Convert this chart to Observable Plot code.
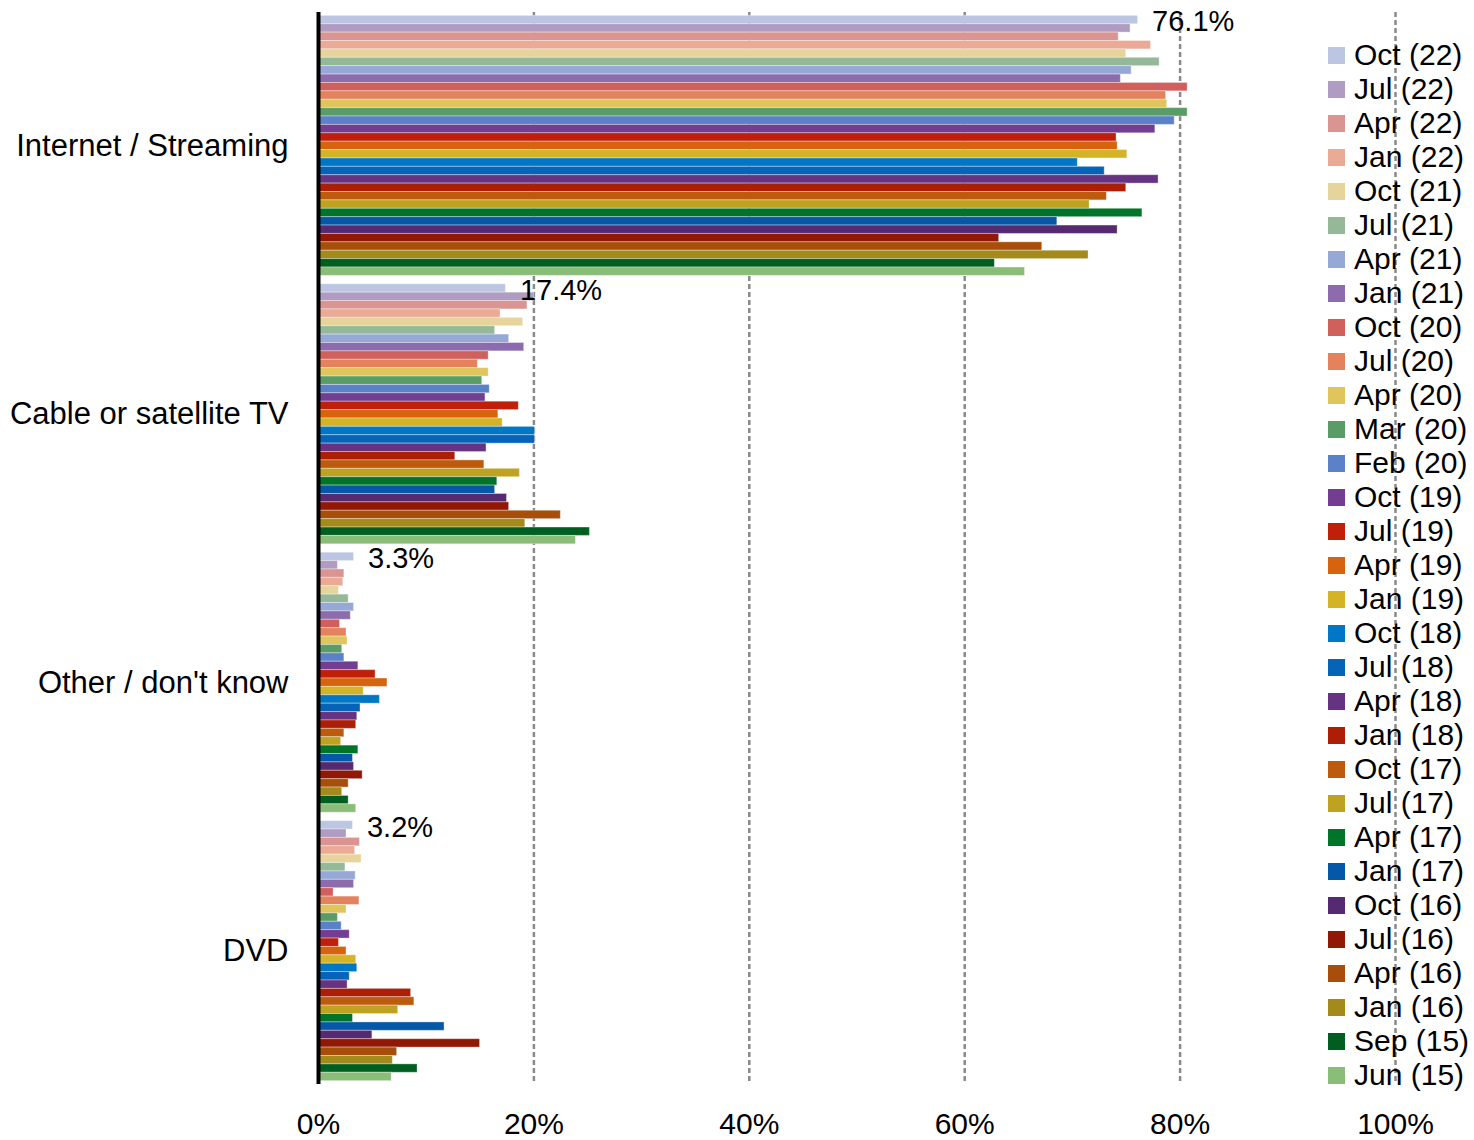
<!DOCTYPE html>
<html><head><meta charset="utf-8">
<script src="https://cdn.jsdelivr.net/npm/d3@7"></script>
<script src="https://cdn.jsdelivr.net/npm/@observablehq/plot@0.6"></script>
<style>
body{margin:0;background:#fff;}
#wrap{position:relative;width:1474px;height:1140px;font-family:"Liberation Sans",Arial,sans-serif;}
#chart{position:absolute;left:0;top:0;}
#legend{position:absolute;left:1328px;top:38px;}
.item{height:34.03px;display:flex;align-items:center;font-size:30px;color:#000;white-space:nowrap;line-height:1;}
.sw{width:17px;height:17px;margin-right:9px;flex:none;}
</style></head>
<body><div id="wrap"><div id="chart"></div><div id="legend"></div></div>
<script>
const categories = ["Internet / Streaming", "Cable or satellite TV", "Other / don't know", "DVD"];
const series = ["Oct (22)","Jul (22)","Apr (22)","Jan (22)","Oct (21)","Jul (21)","Apr (21)","Jan (21)","Oct (20)","Jul (20)","Apr (20)","Mar (20)","Feb (20)","Oct (19)","Jul (19)","Apr (19)","Jan (19)","Oct (18)","Jul (18)","Apr (18)","Jan (18)","Oct (17)","Jul (17)","Apr (17)","Jan (17)","Oct (16)","Jul (16)","Apr (16)","Jan (16)","Sep (15)","Jun (15)"];
const colors = ["#bcc6e2","#b09cc2","#da9592","#eaaa96","#e6d49c","#95b898","#96a9d6","#8d6cad","#cf605b","#e3825c","#e0c45c","#5a9c66","#5b82c8","#733d92","#c0200a","#d6640e","#d4b426","#0077c4","#0563b8","#663383","#ad1e06","#bd5a0e","#bea220","#007428","#0558a8","#552a70","#901805","#a64e0a","#a48a1a","#005f20","#8abd78"];
const internet = [76.1,75.4,74.3,77.3,75.0,78.1,75.5,74.5,80.7,78.7,78.8,80.7,79.5,77.7,74.1,74.2,75.1,70.5,73.0,78.0,75.0,73.2,71.6,76.5,68.6,74.2,63.2,67.2,71.5,62.8,65.6];
const cable = [17.4,20.0,19.4,16.9,19.0,16.4,17.7,19.1,15.8,14.8,15.8,15.2,15.9,15.5,18.6,16.7,17.1,20.1,20.1,15.6,12.7,15.4,18.7,16.6,16.4,17.5,17.7,22.5,19.2,25.2,23.9];
const other = [3.3,1.8,2.4,2.3,1.9,2.8,3.3,3.0,2.0,2.6,2.7,2.2,2.4,3.7,5.3,6.4,4.2,5.7,3.9,3.6,3.5,2.4,2.1,3.7,3.2,3.3,4.1,2.8,2.2,2.8,3.5];
const dvd = [3.2,2.6,3.85,3.4,4.0,2.5,3.45,3.3,1.4,3.8,2.6,1.8,2.15,2.9,1.9,2.6,3.5,3.6,2.9,2.7,8.6,8.9,7.4,3.2,11.7,5.0,15.0,7.3,6.9,9.2,6.8];
const latestLabels = [76.1, 17.4, 3.3, 3.2];
const xTicks = [0, 20, 40, 60, 80, 100];

const values = [internet, cable, other, dvd];
const data = [];
const domain = [];
categories.forEach((c, ci) => {
  series.forEach((s, si) => {
    const key = `${ci}-${si}`;
    domain.push(key);
    data.push({key, category: c, series: s, value: values[ci][si]});
  });
  if (ci < categories.length - 1) domain.push(`gap-${ci}`);
});
const mid = Math.floor(series.length / 2);
const catTicks = categories.map((c, ci) => `${ci}-${mid}`);
const labelData = categories.map((c, ci) => ({key: `${ci}-0`, value: latestLabels[ci]}));

const font = '"Liberation Sans", Arial, sans-serif';
const chart = Plot.plot({
  width: 1474,
  height: 1140,
  marginLeft: 318,
  marginRight: 79,
  marginTop: 12,
  marginBottom: 56,
  style: {fontFamily: font, fontSize: "30px", color: "#000", background: "transparent"},
  x: {domain: [0, 100], label: null},
  y: {type: "band", domain, paddingInner: 0, paddingOuter: 0.4, label: null},
  color: {domain: series, range: colors},
  marks: [
    Plot.gridX({ticks: [20, 40, 60, 80, 100], stroke: "#8a8a8a", strokeOpacity: 1, strokeWidth: 2.5, strokeDasharray: "5,3"}),
    Plot.barX(data, {x: "value", y: "key", fill: "series", stroke: "white", strokeOpacity: 0.35, strokeWidth: 1}),
    Plot.ruleX([0], {stroke: "#000", strokeWidth: 4}),
    Plot.text(labelData, {x: "value", y: "key", text: d => d.value + "%", dx: 14, dy: 2, textAnchor: "start", fontSize: 29, fill: "#000"}),
    Plot.axisX({ticks: xTicks, tickFormat: d => d + "%", tickSize: 0, tickPadding: 28, fontSize: 30, label: null}),
    Plot.axisY({ticks: catTicks, tickFormat: k => categories[+k.split("-")[0]], tickSize: 0, tickPadding: 30, fontSize: 31, label: null})
  ]
});
document.getElementById("chart").appendChild(chart);

const legend = document.getElementById("legend");
series.forEach((s, i) => {
  const item = document.createElement("div");
  item.className = "item";
  const sw = document.createElement("span");
  sw.className = "sw";
  sw.style.background = colors[i];
  const t = document.createElement("span");
  t.textContent = s;
  item.appendChild(sw);
  item.appendChild(t);
  legend.appendChild(item);
});
</script>
</body></html>
